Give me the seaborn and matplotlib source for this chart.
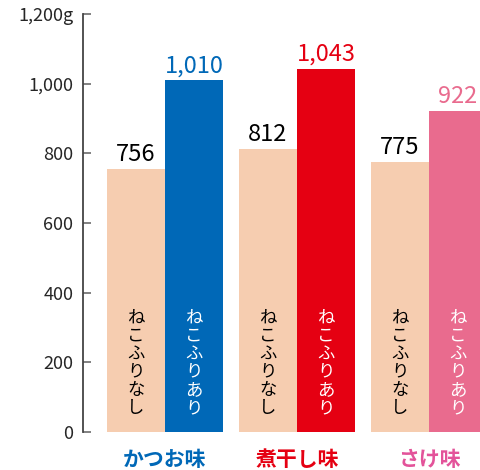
import numpy as np
import pandas as pd
import matplotlib
matplotlib.use("Agg")
from matplotlib import pyplot as plt
import seaborn as sns

# data
flavors = ["かつお味", "煮干し味", "さけ味"]
conditions = ["なし", "あり"]
without_furi = [756, 812, 775]
with_furi = [1010, 1043, 922]
yticks = [0, 200, 400, 600, 800, 1000, 1200]
ytick_labels = ["0", "200", "400", "600", "800", "1,000", "1,200g"]

peach = "#F6CDB0"
bar_colors = ["#0068B7", "#E50012", "#E96B8E"]   # ねこふりあり, per flavor
label_colors = ["#0068B7", "#E50012", "#E3539A"]  # category labels

df = pd.DataFrame({
    "flavor": flavors * 2,
    "condition": [conditions[0]] * 3 + [conditions[1]] * 3,
    "weight": without_furi + with_furi,
})

sns.set_style("ticks")
plt.rcParams['font.family'] = ['Noto Sans CJK JP', 'DejaVu Sans']

fig = plt.figure(figsize=(4.81, 4.70), dpi=100)
ax = fig.add_axes([83 / 481, 38 / 470, 398 / 481, 418 / 470])

sns.barplot(data=df, x="flavor", y="weight", hue="condition", order=flavors,
            hue_order=conditions, width=0.88, gap=0, linewidth=0,
            palette=[peach, bar_colors[0]], legend=False, ax=ax)

# recolour the "あり" bars per flavor
for patch in ax.containers[0]:
    patch.set_facecolor(peach)
for patch, col in zip(ax.containers[1], bar_colors):
    patch.set_facecolor(col)

# value labels
ax.bar_label(ax.containers[0], labels=[f"{v:,}" for v in without_furi],
             padding=2, fontsize=17, color="black")
txt1 = ax.bar_label(ax.containers[1], labels=[f"{v:,}" for v in with_furi],
                    padding=2, fontsize=17)
for t, col in zip(txt1, bar_colors):
    t.set_color(col)

# vertical text inside bars
for cont, col, word in [(ax.containers[0], "black", "なし"),
                        (ax.containers[1], "white", "あり")]:
    for patch in cont:
        cx = patch.get_x() + patch.get_width() / 2
        ax.text(cx, 354, "\n".join("ねこふり"), ha="center", va="top",
                fontsize=12.5, color=col, linespacing=1.0)
        ax.text(cx, 42, "\n".join(word), ha="center", va="bottom",
                fontsize=12.5, color=col, linespacing=1.0)

ax.set_xlim(-0.621, 2.394)
ax.set_ylim(0, 1200)
ax.set_yticks(yticks)
ax.set_yticklabels(ytick_labels, fontsize=13)
ax.tick_params(axis="y", direction="in", length=6, width=1.3, color="#777777", pad=7)
ax.tick_params(axis="x", length=0, pad=12)
for lbl, col in zip(ax.get_xticklabels(), label_colors):
    lbl.set_color(col)
    lbl.set_fontweight("bold")
    lbl.set_fontsize(15)

ax.set_xlabel("")
ax.set_ylabel("")
sns.despine(ax=ax, bottom=True)
ax.spines["left"].set_color("#444444")
ax.spines["left"].set_linewidth(1.3)

plt.savefig("out.png", dpi=100)
